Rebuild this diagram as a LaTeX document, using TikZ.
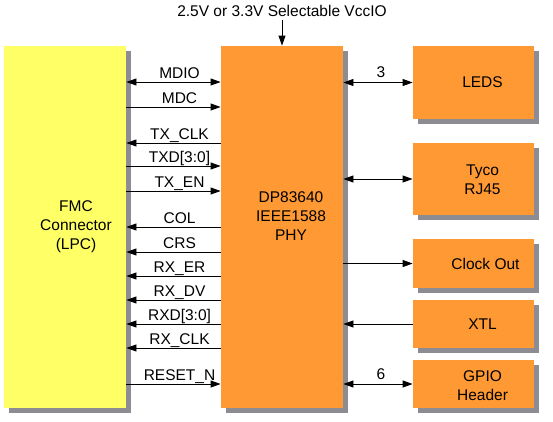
\documentclass[tikz,border=0pt]{standalone}
\usepackage{fontspec}
\setmainfont{Liberation Sans}
\usetikzlibrary{%
  arrows.meta,%
  positioning% wg. " of "
}
\definecolor{fmcyellow}{RGB}{255,255,102}
\definecolor{phyorange}{RGB}{255,153,51}
\definecolor{shadowgray}{RGB}{140,140,146}

\begin{document}
\begin{tikzpicture}
[x=1pt, y=-1pt, font=\fontsize{15.5}{19}\selectfont, line width=0.8pt,
>={Triangle[length=10pt,width=7pt]},
blk/.style={rectangle, inner sep=0pt},
blkshadow/.style={rectangle, inner sep=0pt, fill=shadowgray},
boxtxt/.style={align=center, inner sep=0pt},
sig/.style={above=3pt, inner sep=0pt, text depth=0pt}
]

\useasboundingbox (0,0) rectangle (553,421);

% Blocks with Shadows
  \foreach \n/\cx/\cy/\w/\h/\c in {fmc/65/227/122/362/fmcyellow, phy/282/227/122/362/phyorange,
      leds/473.5/82.5/121/73/phyorange, tyco/473.5/179/121/72/phyorange,
      clkout/473.5/263.5/121/49/phyorange, xtl/473.5/324/121/48/phyorange,
      gpio/473.5/384/121/48/phyorange} {
    \node[blkshadow, minimum width=\w, minimum height=\h] (\n shadow) at (\cx+5,\cy+5) {};
    \node[blk, fill=\c, minimum width=\w, minimum height=\h] (\n) at (\cx,\cy) {};
  }

% Block Texts
  \node[boxtxt, xshift=11pt] (fmctxt) at (fmc.center) {FMC\\Connector\\(LPC)};
  \node[boxtxt, xshift=9pt, yshift=11pt] (phytxt) at (phy.center) {DP83640\\IEEE1588\\PHY};
  \node[boxtxt, xshift=9pt] (ledstxt) at (leds.center) {LEDS};
  \node[boxtxt, xshift=9pt, yshift=-1pt] (tycotxt) at (tyco.center) {Tyco\\RJ45};
  \node[boxtxt, xshift=12pt] (clkouttxt) at (clkout.center) {Clock Out};
  \node[boxtxt, xshift=9pt] (xtltxt) at (xtl.center) {XTL};
  \node[boxtxt, xshift=9pt, yshift=-1.5pt] (gpiotxt) at (gpio.center) {GPIO\\Header};

% Supply
  \node (vccio) at (282,11) {2.5V or 3.3V Selectable VccIO};
  \draw[->] (vccio.south) -- (phy.north);

% FMC <-> PHY Signals
  \foreach \y/\s/\d in {82/MDIO/<->, 107/MDC/->, 143/TX\_CLK/<-, 166/{TXD[3:0]}/->,
      191/TX\_EN/->, 227/COL/<-, 252/CRS/<-, 276/RX\_ER/<-, 300/RX\_DV/<-,
      324/{RXD[3:0]}/<-, 348/RX\_CLK/<-, 384/RESET\_N/->} {
    \draw[\d] (fmc.east |- 0,\y) -- node[sig, xshift=6pt]{\s} (phy.west |- 0,\y);
  }

% PHY <-> Peripherals
  \draw[<->] (phy.east |- leds.west) -- node[above=4pt, inner sep=0pt, xshift=3pt]{3} (leds.west);
  \draw[<->] (phy.east |- tyco.west) -- (tyco.west);
  \draw[->] (phy.east |- clkout.west) -- (clkout.west);
  \draw[<-] (phy.east |- xtl.west) -- (xtl.west);
  \draw[<->] (phy.east |- gpio.west) -- node[above=4pt, inner sep=0pt, xshift=3pt]{6} (gpio.west);
\end{tikzpicture}
\end{document}
